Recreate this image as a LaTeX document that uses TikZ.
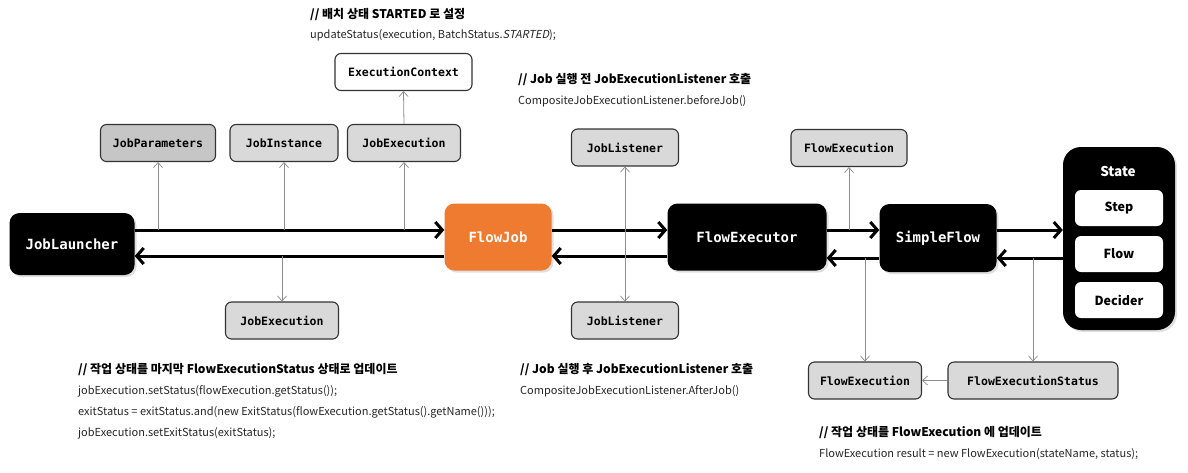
\documentclass[tikz,border=0pt]{standalone}
\usepackage{fontspec}
\setmainfont{Noto Sans CJK KR}[AutoFakeSlant=0.2]
\newfontfamily\monofont{DejaVu Sans Mono}
\usetikzlibrary{arrows.meta,shadows}
\definecolor{boxgray}{HTML}{D9D9D9}
\definecolor{fjorange}{HTML}{EE7B30}
\definecolor{linegray}{HTML}{8C8C8C}
\tikzset{
  gbox/.style={draw=black!80, line width=1.1pt, rounded corners=6pt, fill=boxgray,
    font=\monofont\bfseries\fontsize{11.5}{13}\selectfont, minimum height=37pt, inner sep=0pt},
  wbox/.style={gbox, fill=white},
  kbox/.style={fill=black, rounded corners=10pt, text=white, inner sep=0pt,
    font=\monofont\bfseries\fontsize{14}{16}\selectfont,
    drop shadow={opacity=0.25, shadow xshift=2pt, shadow yshift=-2pt}},
  obox/.style={kbox, fill=fjorange},
  statebox/.style={fill=white, rounded corners=6pt, inner sep=0pt, minimum width=88pt, minimum height=36pt,
    font=\bfseries\fontsize{12.5}{14}\selectfont},
  thick arrow/.style={line width=3pt, -{Straight Barb[length=7pt,width=16pt]}},
  thin arrow/.style={draw=linegray, line width=0.8pt, -{Straight Barb[length=5pt,width=9pt,line width=0.7pt]}},
  head/.style={anchor=west, inner sep=0pt, font=\bfseries\fontsize{12}{14}\selectfont},
  code/.style={anchor=west, inner sep=0pt, text=black!85, font=\fontsize{11}{13}\selectfont},
}
\begin{document}
\begin{tikzpicture}[x=1pt,y=-1pt]
\useasboundingbox (0,0) rectangle (1188,472);
\coordinate (upper) at (0,230);
\coordinate (lowA) at (0,256);
\coordinate (lowB) at (0,258);

% main chain
\node[kbox, minimum width=125pt, minimum height=62pt] (JobLauncher) at (72,244) {JobLauncher};
\node[obox, minimum width=107pt, minimum height=67pt] (FlowJob) at (498,237) {FlowJob};
\node[kbox, minimum width=159pt, minimum height=67pt] (FlowExecutor) at (747,237) {FlowExecutor};
\node[kbox, minimum width=117pt, minimum height=68pt] (SimpleFlow) at (938,238) {SimpleFlow};

% State container
\node[kbox, rounded corners=18pt, minimum width=112pt, minimum height=183pt] (State) at (1119,238.5) {};
\node[text=white, inner sep=0pt, font=\bfseries\fontsize{13.5}{15}\selectfont] (StateLbl) at (1118,171) {State};
\node[statebox] (Step) at (1119,208) {Step};
\node[statebox] (Flow) at (1119,254) {Flow};
\node[statebox] (Decider) at (1119,300) {Decider};

% top boxes
\node[wbox, minimum width=137pt] (ExecutionContext) at (403.5,72) {ExecutionContext};
\node[gbox, minimum width=115pt, fill=gray!45] (JobParameters) at (158,143) {JobParameters};
\node[gbox, minimum width=108pt] (JobInstance) at (284,143) {JobInstance};
\node[gbox, minimum width=113pt] (JobExecutionTop) at (404,143) {JobExecution};
\node[gbox, minimum width=107pt] (JobListenerTop) at (625,147.5) {JobListener};
\node[gbox, minimum width=116pt] (FlowExecutionTop) at (849,148) {FlowExecution};

% bottom boxes
\node[gbox, minimum width=113pt] (JobExecutionBot) at (282,320.5) {JobExecution};
\node[gbox, minimum width=107pt] (JobListenerBot) at (625,320.5) {JobListener};
\node[gbox, minimum width=113pt] (FlowExecutionBot) at (865,380.5) {FlowExecution};
\node[gbox, minimum width=170pt] (FlowExecutionStatus) at (1033,380.5) {FlowExecutionStatus};

% thick arrows
\draw[thick arrow] (JobLauncher.east |- upper) -- (FlowJob.west |- upper);
\draw[thick arrow] (FlowJob.west |- lowA) -- (JobLauncher.east |- lowA);
\draw[thick arrow] (FlowJob.east |- upper) -- (FlowExecutor.west |- upper);
\draw[thick arrow] (FlowExecutor.west |- lowA) -- (FlowJob.east |- lowA);
\draw[thick arrow] (FlowExecutor.east |- upper) -- (SimpleFlow.west |- upper);
\draw[thick arrow] (SimpleFlow.west |- lowB) -- (FlowExecutor.east |- lowB);
\draw[thick arrow] (SimpleFlow.east |- upper) -- (State.west |- upper);
\draw[thick arrow] (State.west |- lowB) -- (SimpleFlow.east |- lowB);

% thin arrows
\draw[thin arrow] (JobParameters.south |- upper) -- (JobParameters.south);
\draw[thin arrow] (JobInstance.south |- upper) -- (JobInstance.south);
\draw[thin arrow] (JobExecutionTop.south |- upper) -- (JobExecutionTop.south);
\draw[thin arrow] (JobExecutionTop.north) -- (ExecutionContext.south);
\draw[thin arrow] (JobExecutionBot.north |- lowA) -- (JobExecutionBot.north);
\draw[thin arrow, {Straight Barb[length=5pt,width=9pt,line width=0.7pt]}-{Straight Barb[length=5pt,width=9pt,line width=0.7pt]}] (JobListenerTop.south) -- (JobListenerBot.north);
\draw[thin arrow] (FlowExecutionTop.south |- upper) -- (FlowExecutionTop.south);
\draw[thin arrow] (FlowExecutionBot.north |- lowB) -- (FlowExecutionBot.north);
\draw[thin arrow] (FlowExecutionStatus.north |- lowB) -- (FlowExecutionStatus.north);
\draw[thin arrow] (FlowExecutionStatus.west) -- (FlowExecutionBot.east);

% comments
\node[head] (t1) at (310,15) {// 배치 상태 STARTED 로 설정};
\node[code] (t2) at (310,35) {updateStatus(execution, BatchStatus.\textit{STARTED});};
\node[head] (t3) at (518,80) {// Job 실행 전 JobExecutionListener 호출};
\node[code] (t4) at (518,101) {CompositeJobExecutionListener.beforeJob()};
\node[head] (t5) at (78,370) {// 작업 상태를 마지막 FlowExecutionStatus 상태로 업데이트};
\node[code] (t6) at (78,391) {jobExecution.setStatus(flowExecution.getStatus());};
\node[code] (t7) at (78,412) {exitStatus = exitStatus.and(new ExitStatus(flowExecution.getStatus().getName()));};
\node[code] (t8) at (78,433) {jobExecution.setExitStatus(exitStatus);};
\node[head] (t9) at (520,370) {// Job 실행 후 JobExecutionListener 호출};
\node[code] (t10) at (520,391) {CompositeJobExecutionListener.AfterJob()};
\node[head] (t11) at (819,433) {// 작업 상태를 FlowExecution 에 업데이트};
\node[code] (t12) at (819,454) {FlowExecution result = new FlowExecution(stateName, status);};
\end{tikzpicture}
\end{document}
